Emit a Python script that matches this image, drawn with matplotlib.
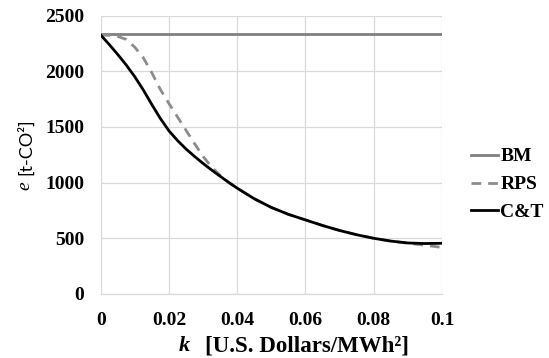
import matplotlib
matplotlib.use("Agg")
import matplotlib.pyplot as plt

# k [U.S. Dollars/MWh^2]
k_values = [0, 0.0025, 0.005, 0.0075, 0.01, 0.0125, 0.015, 0.0175, 0.02,
            0.0225, 0.025, 0.0275, 0.03, 0.0325, 0.035, 0.0375, 0.04,
            0.045, 0.05, 0.055, 0.06, 0.065, 0.07, 0.075, 0.08, 0.085,
            0.09, 0.095, 0.1]

# emissions e [t-CO2]
bm = [2330] * len(k_values)
rps = [2325, 2322, 2312, 2285, 2215, 2120, 1985, 1835, 1710,
       1590, 1470, 1350, 1235, 1140, 1065, 1002, 950,
       855, 777, 715, 665, 615, 570, 532, 500, 475,
       456, 438, 418]
cat = [2325, 2240, 2150, 2055, 1950, 1831, 1700, 1575, 1465,
       1378, 1302, 1235, 1172, 1113, 1057, 1002, 950,
       855, 777, 715, 665, 615, 570, 532, 500, 475,
       458, 453, 455]

series_labels = ["BM", "RPS", "C&T"]
x_ticks = [0, 0.02, 0.04, 0.06, 0.08, 0.1]
x_tick_labels = ["0", "0.02", "0.04", "0.06", "0.08", "0.1"]
y_ticks = [0, 500, 1000, 1500, 2000, 2500]

tick_font = {"family": "Liberation Serif", "weight": "bold", "size": 14}

fig = plt.figure(figsize=(5.49, 3.58), dpi=100)
ax = fig.add_axes([0.1834, 0.1788, 0.6216, 0.7779])

ax.plot(k_values, bm, color="#808080", lw=2.0, label=series_labels[0])
ax.plot(k_values, rps, color="#8c8c8c", lw=2.0, dashes=(3.5, 2.5), label=series_labels[1])
ax.plot(k_values, cat, color="black", lw=2.0, label=series_labels[2])

ax.set_xlim(0, 0.1)
ax.set_ylim(0, 2500)
ax.set_xticks(x_ticks)
ax.set_xticklabels(x_tick_labels, fontdict=tick_font)
ax.set_yticks(y_ticks)
ax.set_yticklabels([str(v) for v in y_ticks], fontdict=tick_font)
ax.tick_params(length=0)
ax.tick_params(axis="x", pad=13)
ax.tick_params(axis="y", pad=12)

ax.grid(True, color="#d9d9d9", lw=0.9)
ax.set_axisbelow(True)
for side in ["top", "right", "left"]:
    ax.spines[side].set_visible(False)
ax.spines["bottom"].set_color("#d9d9d9")
ax.spines["bottom"].set_linewidth(0.9)

# axis titles
fig.text(0.336, 0.0335, "k", fontsize=16, family="Liberation Serif",
         style="italic", weight="bold", ha="center", va="center")
fig.text(0.373, 0.0335, "[U.S. Dollars/MWh²]", fontsize=16.5, family="Liberation Serif",
         weight="bold", ha="left", va="center")
fig.text(0.046, 0.48, "e", fontsize=14, family="Liberation Serif",
         style="italic", rotation=90, ha="center", va="center")
fig.text(0.046, 0.59, "[t-CO²]", fontsize=13, family="Lato",
         rotation=90, ha="center", va="center")

fig.legend(loc="center left", bbox_to_anchor=(0.858, 0.4846), frameon=False,
           prop={"family": "Liberation Serif", "weight": "bold", "size": 14},
           handlelength=1.4, handletextpad=0.1, labelspacing=0.53,
           borderpad=0, borderaxespad=0)

fig.savefig("out.png", dpi=100)
